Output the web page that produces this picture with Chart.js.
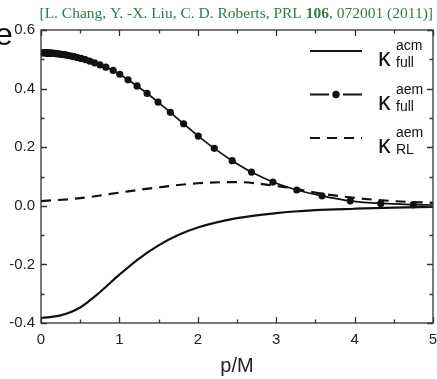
<!DOCTYPE html>
<html><head><meta charset="utf-8">
<script src="https://cdn.jsdelivr.net/npm/chart.js@4"></script>
<style>html,body{margin:0;padding:0;background:#fff}#wrap{width:437px;height:379px;position:relative}</style>
</head><body><div id="wrap"><canvas id="c" width="437" height="379"></canvas></div>
<script>
// ---- data ----
const acmX = [0, 0.25, 0.5, 0.75, 1.0, 1.25, 1.5, 1.75, 2.0, 2.5, 3.0, 3.5, 4.0, 4.5, 5.0];
const acmY = [-0.383, -0.374, -0.347, -0.295, -0.235, -0.180, -0.135, -0.100, -0.074, -0.042, -0.025, -0.015, -0.010, -0.006, -0.004];

const aemFullX = [0, 0.02, 0.04, 0.06, 0.069, 0.076, 0.084, 0.092, 0.102, 0.112, 0.123, 0.135, 0.149, 0.164, 0.180, 0.198, 0.218, 0.240, 0.264, 0.290, 0.319, 0.351, 0.386, 0.424, 0.467, 0.513, 0.565, 0.621, 0.683, 0.752, 0.827, 0.920, 1.005, 1.110, 1.225, 1.353, 1.493, 1.650, 1.819, 2.006, 2.210, 2.439, 2.685, 2.958, 3.262, 3.584, 3.944, 4.334, 4.749, 5.210];
const aemFullY = [0.522, 0.522, 0.522, 0.522, 0.522, 0.522, 0.521, 0.521, 0.521, 0.521, 0.521, 0.521, 0.520, 0.520, 0.520, 0.519, 0.519, 0.518, 0.517, 0.516, 0.515, 0.513, 0.511, 0.509, 0.506, 0.503, 0.499, 0.494, 0.488, 0.481, 0.473, 0.462, 0.449, 0.430, 0.409, 0.384, 0.354, 0.319, 0.280, 0.238, 0.196, 0.154, 0.115, 0.081, 0.054, 0.034, 0.017, 0.008, 0.004, 0.002];

const aemRLX = [0, 0.5, 1.0, 1.5, 2.0, 2.5, 3.0, 3.25, 3.5, 4.0, 4.5, 5.0];
const aemRLY = [0.016, 0.026, 0.045, 0.063, 0.077, 0.081, 0.068, 0.058, 0.045, 0.027, 0.016, 0.010];

const xTickValues = [0, 1, 2, 3, 4, 5];
const yTickValues = [-0.4, -0.2, 0.0, 0.2, 0.4, 0.6];
const legendSup = ['acm', 'aem', 'aem'];
const legendSub = ['full', 'full', 'RL'];
const legendMain = 'κ';
const xTitle = 'p/M';
const citeParts = ['[L. Chang, Y. -X. Liu, C. D. Roberts, PRL ', '106', ', 072001 (2011)]'];
const cornerText = 'e';

const pts = (xs, ys) => xs.map((x, i) => ({x, y: ys[i]}));
const INK = '#111';

const decor = {
  id: 'decor',
  afterDraw(chart) {
    const ctx = chart.ctx, a = chart.chartArea;
    const xs = chart.scales.x, ys = chart.scales.y;
    ctx.save();
    // frame
    ctx.strokeStyle = '#333'; ctx.lineWidth = 1.3;
    ctx.strokeRect(a.left, a.top, a.right - a.left, a.bottom - a.top);
    // ticks on all four sides, inward
    const maj = 6, mn = 3.5;
    const xv = xs.ticks.map(t => t.value), yv = ys.ticks.map(t => t.value);
    const xm = [], ym = [];
    for (let i = 0; i < xv.length - 1; i++) xm.push((xv[i] + xv[i+1]) / 2);
    for (let i = 0; i < yv.length - 1; i++) ym.push((yv[i] + yv[i+1]) / 2);
    ctx.beginPath();
    const vx = (v, L) => { const p = Math.round(xs.getPixelForValue(v)) + 0.5;
      ctx.moveTo(p, a.bottom); ctx.lineTo(p, a.bottom - L);
      ctx.moveTo(p, a.top); ctx.lineTo(p, a.top + L); };
    const vy = (v, L) => { const p = Math.round(ys.getPixelForValue(v)) + 0.5;
      ctx.moveTo(a.left, p); ctx.lineTo(a.left + L, p);
      ctx.moveTo(a.right, p); ctx.lineTo(a.right - L, p); };
    xv.forEach(v => vx(v, maj)); xm.forEach(v => vx(v, mn));
    yv.forEach(v => vy(v, maj)); ym.forEach(v => vy(v, mn));
    ctx.stroke();

    // legend
    const ds = chart.data.datasets;
    for (let i = 0; i < 3; i++) {
      const ly = a.top + 21 + 43.5 * i;
      const x0 = a.right - 123, x1 = a.right - 71;
      const d = ds[i];
      ctx.strokeStyle = INK; ctx.fillStyle = INK;
      ctx.lineWidth = 2.2;
      ctx.setLineDash(d.borderDash || []);
      ctx.beginPath();
      if (i === 1) {
        const cx = (x0 + x1) / 2;
        ctx.moveTo(x0, ly); ctx.lineTo(cx - 7, ly);
        ctx.moveTo(cx + 7, ly); ctx.lineTo(x1, ly);
        ctx.stroke();
        ctx.beginPath(); ctx.arc(cx, ly, 3.7, 0, Math.PI * 2); ctx.fill();
      } else {
        ctx.moveTo(x0, ly); ctx.lineTo(x1, ly); ctx.stroke();
      }
      ctx.setLineDash([]);
      ctx.textAlign = 'left'; ctx.textBaseline = 'alphabetic';
      ctx.font = '25px "Liberation Sans", Arial, sans-serif';
      ctx.fillText(legendMain, a.right - 55, ly + 15);
      ctx.font = '14px "Liberation Sans", Arial, sans-serif';
      ctx.fillText(legendSup[i], a.right - 37, ly - 1);
      ctx.fillText(legendSub[i], a.right - 37, ly + 16);
    }

    // citation
    ctx.textBaseline = 'alphabetic';
    const fN = '15.5px "Liberation Serif", "Times New Roman", serif';
    const fB = 'bold 15.5px "Liberation Serif", "Times New Roman", serif';
    ctx.fillStyle = '#2e7d4c';
    const widths = citeParts.map((s, k) => { ctx.font = k === 1 ? fB : fN; return ctx.measureText(s).width; });
    let cx = 433 - widths.reduce((p, c) => p + c, 0);
    citeParts.forEach((s, k) => { ctx.font = k === 1 ? fB : fN; ctx.fillText(s, cx, 18); cx += widths[k]; });

    // cut-off corner letter
    ctx.fillStyle = INK;
    ctx.font = '32px "Liberation Sans", Arial, sans-serif';
    ctx.fillText(cornerText, -5, 45);
    ctx.restore();
  }
};

new Chart(document.getElementById('c'), {
  type: 'line',
  data: {
    datasets: [
      { label: 'acm full', data: pts(acmX, acmY), borderColor: INK, borderWidth: 2.2, pointRadius: 0, cubicInterpolationMode: 'monotone', fill: false },
      { label: 'aem full', data: pts(aemFullX, aemFullY), borderColor: INK, backgroundColor: INK, borderWidth: 1.7, pointRadius: 3.6, pointBorderWidth: 0, pointBackgroundColor: INK, cubicInterpolationMode: 'monotone', fill: false },
      { label: 'aem RL', data: pts(aemRLX, aemRLY), borderColor: INK, borderWidth: 2.2, borderDash: [10, 7], pointRadius: 0, cubicInterpolationMode: 'monotone', fill: false }
    ]
  },
  options: {
    responsive: false, animation: false, devicePixelRatio: 1,
    layout: { padding: { left: 0, right: 3, top: 30, bottom: 0 } },
    plugins: { legend: { display: false }, tooltip: { enabled: false } },
    scales: {
      x: {
        type: 'linear', min: 0, max: 5,
        grid: { display: false, drawTicks: false }, border: { display: false },
        afterBuildTicks: s => { s.ticks = xTickValues.map(v => ({value: v})); },
        ticks: { padding: 8, color: '#222', font: { family: '"Liberation Sans", Arial, sans-serif', size: 15 }, maxRotation: 0, callback: v => String(v) },
        title: { display: true, text: xTitle, color: '#222', font: { family: '"Liberation Sans", Arial, sans-serif', size: 20 }, padding: { top: 0, bottom: 1 } },
        afterFit: s => { s.height = 56; s.paddingLeft = 0; s.paddingRight = 0; }
      },
      y: {
        type: 'linear', min: -0.4, max: 0.6,
        grid: { display: false, drawTicks: false }, border: { display: false },
        afterBuildTicks: s => { s.ticks = yTickValues.map(v => ({value: v})); },
        ticks: { padding: 6, color: '#222', font: { family: '"Liberation Sans", Arial, sans-serif', size: 15 }, callback: v => (Math.abs(v) < 1e-9 ? 0 : v).toFixed(1) },
        afterFit: s => { s.width = 41; s.paddingTop = 0; s.paddingBottom = 0; }
      }
    }
  },
  plugins: [decor]
});
</script></body></html>
